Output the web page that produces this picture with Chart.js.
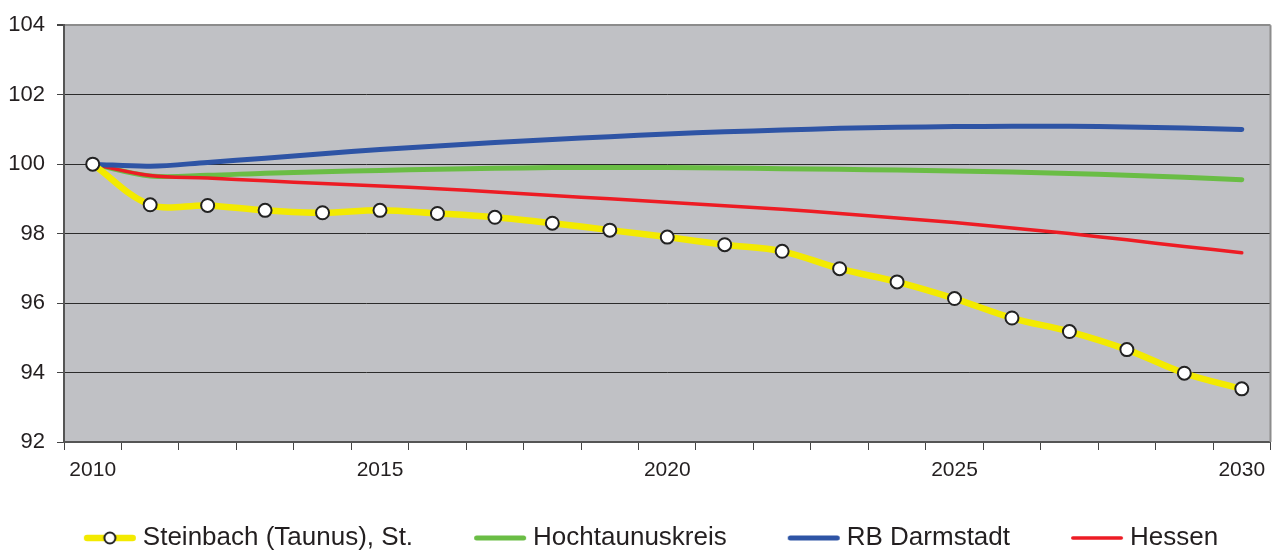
<!DOCTYPE html>
<html>
<head>
<meta charset="utf-8">
<script src="https://cdn.jsdelivr.net/npm/chart.js@4.4.0/dist/chart.umd.min.js"></script>
<style>
  html, body { margin: 0; padding: 0; background: #fff; overflow: hidden; }
  #wrap { width: 1279px; height: 561px; }
</style>
</head>
<body>
<div id="wrap"><canvas id="chart"></canvas></div>
<script>
// values (index, 2010 = 100)
const years = [2010, 2011, 2012, 2013, 2014, 2015, 2016, 2017, 2018, 2019, 2020,
  2021, 2022, 2023, 2024, 2025, 2026, 2027, 2028, 2029, 2030];
const steinbach = [100, 98.83, 98.81, 98.67, 98.6, 98.67, 98.58, 98.47, 98.3, 98.1, 97.9,
  97.68, 97.49, 96.99, 96.61, 96.13, 95.57, 95.18, 94.66, 93.98, 93.53];
const hochtaunus = [100, 99.66, 99.68, 99.74, 99.78, 99.82, 99.85, 99.88, 99.9, 99.9, 99.9,
  99.89, 99.87, 99.85, 99.83, 99.8, 99.77, 99.73, 99.68, 99.62, 99.55];
const darmstadt = [100, 99.94, 100.05, 100.17, 100.3, 100.42, 100.52, 100.62, 100.71, 100.79, 100.87,
  100.93, 100.98, 101.03, 101.06, 101.08, 101.09, 101.09, 101.07, 101.04, 101.0];
const hessen = [100, 99.67, 99.6, 99.52, 99.44, 99.37, 99.29, 99.2, 99.1, 99.0, 98.9,
  98.8, 98.7, 98.58, 98.45, 98.32, 98.16, 98.0, 97.82, 97.63, 97.45];
const yTicks = [92, 94, 96, 98, 100, 102, 104];
const seriesNames = ['Steinbach (Taunus), St.', 'Hochtaunuskreis', 'RB Darmstadt', 'Hessen'];

const FONT = "'Liberation Sans', Arial, sans-serif";
const TEXT = '#231f20';
const LEGEND_SIZE = 26;
const BOX_W = 74;   // legend box width
const IMG_W = 100;

// legend sample: line (and marker) ending 7px before the text
function legendImage(color, width, marker) {
  const c = document.createElement('canvas');
  c.width = IMG_W;
  c.height = 20;
  const g = c.getContext('2d');
  const end = BOX_W / 2 + LEGEND_SIZE / 2 - 7 + IMG_W / 2;
  g.strokeStyle = color;
  g.lineWidth = width;
  g.lineCap = 'round';
  g.beginPath();
  g.moveTo(end - 52 + width / 2, 10);
  g.lineTo(end - width / 2, 10);
  g.stroke();
  if (marker) {
    g.beginPath();
    g.arc(end - 26, 10, 5.5, 0, Math.PI * 2);
    g.fillStyle = '#fff';
    g.fill();
    g.lineWidth = 2;
    g.strokeStyle = '#222';
    g.stroke();
  }
  return c;
}

const plotBg = {
  id: 'plotBg',
  beforeDraw(chart) {
    const { ctx, chartArea: a } = chart;
    ctx.save();
    ctx.fillStyle = '#c0c1c5';
    ctx.fillRect(a.left, a.top, a.right - a.left, a.bottom - a.top);
    ctx.restore();
  },
  beforeDatasetsDraw(chart) {
    const { ctx, chartArea: a } = chart;
    ctx.save();
    ctx.strokeStyle = '#8c8c8c';
    ctx.lineWidth = 2;
    ctx.beginPath();
    ctx.moveTo(a.right, a.top);
    ctx.lineTo(a.right, a.bottom);
    ctx.stroke();
    ctx.restore();
  }
};

const colors = ['#f3ea00', '#6abd45', '#2e54a5', '#ed1c24'];
const widths = [6.5, 5, 5, 3.5];

new Chart(document.getElementById('chart'), {
  type: 'line',
  data: {
    labels: years,
    datasets: [
      {
        label: seriesNames[0],
        data: steinbach,
        borderColor: colors[0],
        borderWidth: widths[0],
        pointRadius: 6.5,
        pointBackgroundColor: '#fff',
        pointBorderColor: '#222',
        pointBorderWidth: 2,
        order: 0,
      },
      {
        label: seriesNames[1],
        data: hochtaunus,
        borderColor: colors[1],
        borderWidth: widths[1],
        pointRadius: 0,
        order: 3,
      },
      {
        label: seriesNames[2],
        data: darmstadt,
        borderColor: colors[2],
        borderWidth: widths[2],
        pointRadius: 0,
        order: 1,
      },
      {
        label: seriesNames[3],
        data: hessen,
        borderColor: colors[3],
        borderWidth: widths[3],
        pointRadius: 0,
        order: 2,
      },
    ],
  },
  options: {
    responsive: true,
    maintainAspectRatio: false,
    animation: false,
    events: [],
    layout: { padding: { top: 23, right: 5, left: 0, bottom: 0 } },
    elements: { line: { tension: 0.35, borderCapStyle: 'round' } },
    plugins: {
      tooltip: { enabled: false },
      legend: {
        position: 'bottom',
        labels: {
          usePointStyle: true,
          pointStyleWidth: BOX_W,
          padding: 33,
          color: TEXT,
          font: { family: FONT, size: LEGEND_SIZE },
          generateLabels: () => seriesNames.map((name, i) => ({
            text: name,
            pointStyle: legendImage(colors[i], widths[i], i === 0),
            fillStyle: colors[i],
            strokeStyle: colors[i],
            lineWidth: 0,
            hidden: false,
            datasetIndex: i,
            fontColor: TEXT,
          })),
        },
      },
    },
    scales: {
      x: {
        offset: true,
        grid: {
          offset: true,
          drawOnChartArea: false,
          tickLength: 8,
          tickColor: '#444',
        },
        border: { color: '#555', width: 2 },
        ticks: {
          autoSkip: false,
          maxRotation: 0,
          padding: 8,
          color: TEXT,
          font: { family: FONT, size: 21 },
          callback: (v, i) => (years[i] % 5 === 0 ? String(years[i]) : ''),
        },
        afterFit: (s) => { s.height = 50; },
      },
      y: {
        min: 92,
        max: 104,
        afterBuildTicks: (s) => { s.ticks = yTicks.map((v) => ({ value: v })); },
        grid: {
          color: (c) => (c.tick && c.tick.value === 104 ? '#8c8c8c' : '#2b2b2b'),
          lineWidth: (c) => (c.tick && c.tick.value === 104 ? 2 : 1),
          tickLength: 7,
          tickColor: '#444',
        },
        border: { color: '#555', width: 2 },
        ticks: {
          padding: 12,
          color: TEXT,
          font: { family: FONT, size: 22 },
        },
        afterFit: (s) => { s.width = 64; },
      },
    },
  },
  plugins: [plotBg],
});
</script>
</body>
</html>
